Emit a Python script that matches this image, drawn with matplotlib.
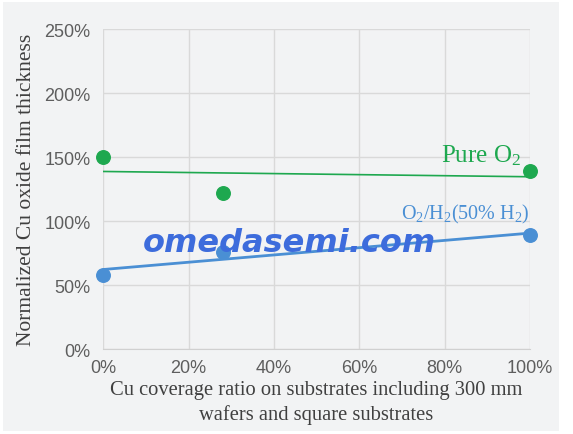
import numpy as np
import matplotlib
matplotlib.use("Agg")
import matplotlib.pyplot as plt
from matplotlib.patches import Rectangle

# coverage ratio (%) and normalized thickness (%)
coverage = [0, 28, 100]
pure_o2 = [150, 122, 139]
o2_h2 = [58, 76, 89]

x_ticks = [0, 20, 40, 60, 80, 100]
y_ticks = [0, 50, 100, 150, 200, 250]

green = '#1ea84f'
blue = '#4a8fd4'
bg = '#f2f3f4'
tick_col = '#5e5e5e'
serif = 'Liberation Serif'
sans = 'Liberation Sans'

plt.rcParams['mathtext.fontset'] = 'custom'
plt.rcParams['mathtext.rm'] = serif

fig = plt.figure(figsize=(5.73, 4.35), dpi=100, facecolor='white')
fig.patches.append(Rectangle((0.006, 0.008), 0.97, 0.985, transform=fig.transFigure,
                             facecolor=bg, edgecolor='none', zorder=-10))
ax = fig.add_axes([0.18, 0.195, 0.745, 0.736])
ax.set_facecolor(bg)

# trend lines (linear fit)
xs = np.array([0, 100])
p1 = np.polyfit(coverage, pure_o2, 1)
p2 = np.polyfit(coverage, o2_h2, 1)
ax.plot(xs, np.polyval(p1, xs), color=green, lw=1.2, zorder=3)
ax.plot(xs, np.polyval(p2, xs), color=blue, lw=2.0, zorder=3)

ax.scatter(coverage, pure_o2, s=95, color=green, zorder=4, clip_on=False)
ax.scatter(coverage, o2_h2, s=95, color=blue, zorder=4, clip_on=False)

ax.set_xlim(0, 100)
ax.set_ylim(0, 250)
ax.set_xticks(x_ticks)
ax.set_yticks(y_ticks)
ax.set_xticklabels(['%d%%' % v for v in x_ticks], fontsize=13, color=tick_col, family=sans)
ax.set_yticklabels(['%d%%' % v for v in y_ticks], fontsize=13, color=tick_col, family=sans)
ax.tick_params(length=0, pad=9)
ax.tick_params(axis='x', pad=7)
ax.grid(True, color='#d9d9d9', lw=1)
ax.set_axisbelow(True)
for s in ['top', 'right', 'left']:
    ax.spines[s].set_visible(False)
ax.spines['bottom'].set_color('#d0d0d0')

ax.set_xlabel('Cu coverage ratio on substrates including 300 mm\nwafers and square substrates',
              fontsize=14.8, family=serif, color='#404040', labelpad=3, linespacing=1.35)
ax.set_ylabel('Normalized Cu oxide film thickness', fontsize=15.5, family=serif,
              color='#404040', labelpad=6)

ax.text(98, 142, r'Pure O$\mathregular{_2}$', fontsize=18, family=serif, color=green,
        ha='right', va='bottom')
ax.text(100, 97, r'O$\mathregular{_2}$/H$\mathregular{_2}$(50% H$\mathregular{_2}$)',
        fontsize=14.5, family=serif, color=blue, ha='right', va='bottom')

# watermark
fig.text(0.505, 0.44, 'omedasemi.com', fontsize=23, fontweight='bold', fontstyle='italic',
         color='#3d6cdc', ha='center', va='center', family='DejaVu Sans', zorder=10)

fig.savefig('out.png', dpi=100, facecolor='white')
